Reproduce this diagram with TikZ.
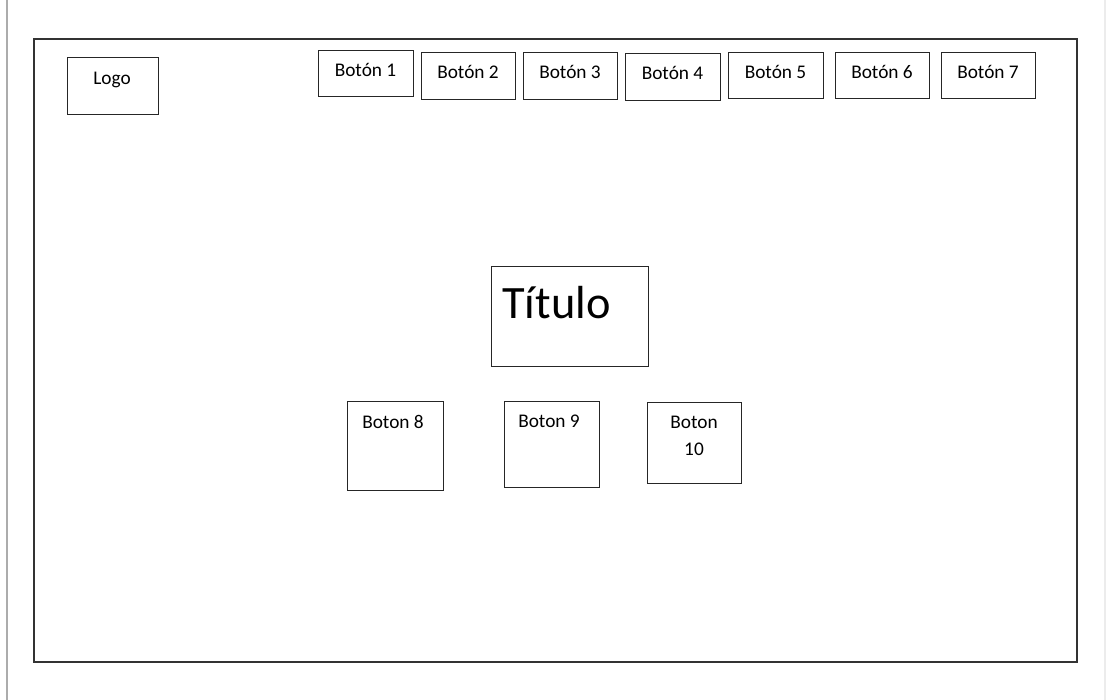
\documentclass[tikz,border=0pt]{standalone}
\usepackage{fontspec}
\setmainfont{Carlito}
\begin{document}
\begin{tikzpicture}[x=0.02cm,y=-0.02cm,
    caja/.style={draw=black!85, line width=0.55pt},
    rotulo/.style={font=\fontsize{11}{15.3}\selectfont, anchor=base, inner sep=0pt, align=center}]
    \useasboundingbox (0,0) rectangle (1106,700);
    % page edges and frame
    \draw[gray!65, line width=0.8pt] (7,0) -- (7,700);
    \draw[gray!15, line width=0.6pt] (1105,0) -- (1105,700);
    \draw[black!80, line width=0.85pt] (34,39) rectangle (1077,662);
    % logo
    \draw[caja] (67,57) rectangle (158,114);
    \node[rotulo] (logo) at (112,84) {Logo};
    % top menu
    \foreach \xa/\ya/\xb/\yb/\n in {318/50/413/96/1, 421/52/515/99/2, 523/52/617/99/3,
        625/53/720/100/4, 728/52/823/98/5, 835/52/929/98/6, 941/52/1035/98/7} {
        \draw[caja] (\xa,\ya) rectangle (\xb,\yb);
        \node[rotulo] (boton\n) at ({(\xa+\xb)/2},\ya+26) {Botón \n};
    }
    % title
    \draw[caja] (491,266) rectangle (648,366);
    \node[rotulo, anchor=base west, font=\fontsize{26.4}{30}\selectfont] (titulo) at (502,318) {Título};
    % lower buttons
    \draw[caja] (347,401) rectangle (443,490);
    \node[rotulo] (boton8) at (393,428) {Boton 8};
    \draw[caja] (504,401) rectangle (599,487);
    \node[rotulo] (boton9) at (549,427) {Boton 9};
    \draw[caja] (647,402) rectangle (741,483);
    \node[rotulo] (boton10) at (694,455) {Boton\\10};
\end{tikzpicture}
\end{document}
